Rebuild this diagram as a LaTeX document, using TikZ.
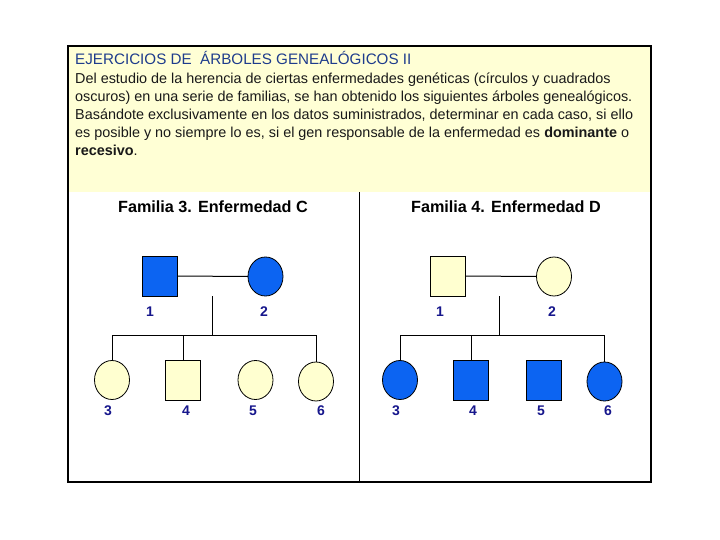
\documentclass[tikz,border=0pt]{standalone}
\usepackage{fontspec}
\setmainfont{Liberation Sans}
\usetikzlibrary{shapes.geometric}
\definecolor{hdrbg}{RGB}{255,255,213}
\definecolor{pale}{RGB}{255,255,208}
\definecolor{ill}{RGB}{12,100,242}
\definecolor{ttl}{RGB}{30,60,140}
\definecolor{lbl}{RGB}{22,22,140}
\definecolor{body}{RGB}{25,25,25}
\tikzset{
  sq/.style={draw=black, line width=0.8pt, minimum width=35pt, minimum height=40pt, inner sep=0pt, outer sep=0pt},
  ci/.style={draw=black, line width=0.8pt, ellipse, minimum width=35pt, minimum height=39pt, inner sep=0pt, outer sep=0pt},
  sick/.style={fill=ill},
  well/.style={fill=pale},
  num/.style={text=lbl, font=\fontsize{14}{16}\selectfont\bfseries, inner sep=0pt},
  famt/.style={font=\fontsize{16.2}{18}\selectfont\bfseries, inner sep=0pt},
  bodyl/.style={anchor=base west, inner sep=0pt, text=body, font=\fontsize{14.4}{16}\selectfont},
  ln/.style={line width=1pt}
}
\begin{document}
\begin{tikzpicture}[x=1pt,y=-1pt]
\useasboundingbox (0,0) rectangle (720,540);
\fill[white] (0,0) rectangle (720,540);
% header
\fill[hdrbg] (68,46) rectangle (651,192);
\draw[line width=0.8pt] (359,192) -- (359,482);
\draw[line width=2pt] (68,46) rectangle (651,482);
% header text
\node[anchor=base west, inner sep=0pt, text=ttl, font=\fontsize{15.2}{16}\selectfont] (title) at (75,65) {EJERCICIOS DE \ ÁRBOLES GENEALÓGICOS II};
\node[bodyl] (l1) at (75,84) {Del estudio de la herencia de ciertas enfermedades genéticas (círculos y cuadrados};
\node[bodyl] (l2) at (75,102) {oscuros) en una serie de familias, se han obtenido los siguientes árboles genealógicos.};
\node[bodyl] (l3) at (75,120) {Basándote exclusivamente en los datos suministrados, determinar en cada caso, si ello};
\node[bodyl] (l4) at (75,138) {es posible y no siempre lo es, si el gen responsable de la enfermedad es \textbf{dominante} o};
\node[bodyl] (l5) at (75,156) {\textbf{recesivo}.};
% family titles
\node[famt] (t3) at (213,207) {Familia 3. Enfermedad C};
\node[famt] (t4) at (506,207) {Familia 4. Enfermedad D};
% Family 3
\node[sq, sick] (a1) at (160,276) {};
\node[ci, sick] (a2) at (265.5,276.5) {};
\node[num] (na1) at (150,312) {1};
\node[num] (na2) at (264,312) {2};
\coordinate (ad) at (212,296);
\coordinate (as) at (212,335);
\draw[ln] (a1.east) -- (a2.west);
\draw[ln] (ad) -- (as);
\node[ci, well] (a3) at (112,380) {};
\node[sq, well] (a4) at (183,380.5) {};
\node[ci, well] (a5) at (255.5,380) {};
\node[ci, well] (a6) at (316,381.5) {};
\draw[ln] (a3.north |- as) -- (a6.north |- as);
\draw[ln] (a3.north |- as) -- (a3.north);
\draw[ln] (a4.north |- as) -- (a4.north);
\draw[ln] (a6.north |- as) -- (a6.north);
\node[num] (na3) at (108,411) {3};
\node[num] (na4) at (186,411) {4};
\node[num] (na5) at (253,411) {5};
\node[num] (na6) at (321,411) {6};
% Family 4
\node[sq, well] (b1) at (448,276) {};
\node[ci, well] (b2) at (554,276.5) {};
\node[num] (nb1) at (440,312) {1};
\node[num] (nb2) at (552,312) {2};
\coordinate (bd) at (499.5,296);
\coordinate (bs) at (499.5,335);
\draw[ln] (b1.east) -- (b2.west);
\draw[ln] (bd) -- (bs);
\node[ci, sick] (b3) at (400,380) {};
\node[sq, sick] (b4) at (471,380.5) {};
\node[sq, sick] (b5) at (544,380.5) {};
\node[ci, sick] (b6) at (604.5,381.5) {};
\draw[ln] (b3.north |- bs) -- (b6.north |- bs);
\draw[ln] (b3.north |- bs) -- (b3.north);
\draw[ln] (b4.north |- bs) -- (b4.north);
\draw[ln] (b6.north |- bs) -- (b6.north);
\node[num] (nb3) at (396,411) {3};
\node[num] (nb4) at (473,411) {4};
\node[num] (nb5) at (541,411) {5};
\node[num] (nb6) at (608,411) {6};
\end{tikzpicture}
\end{document}
